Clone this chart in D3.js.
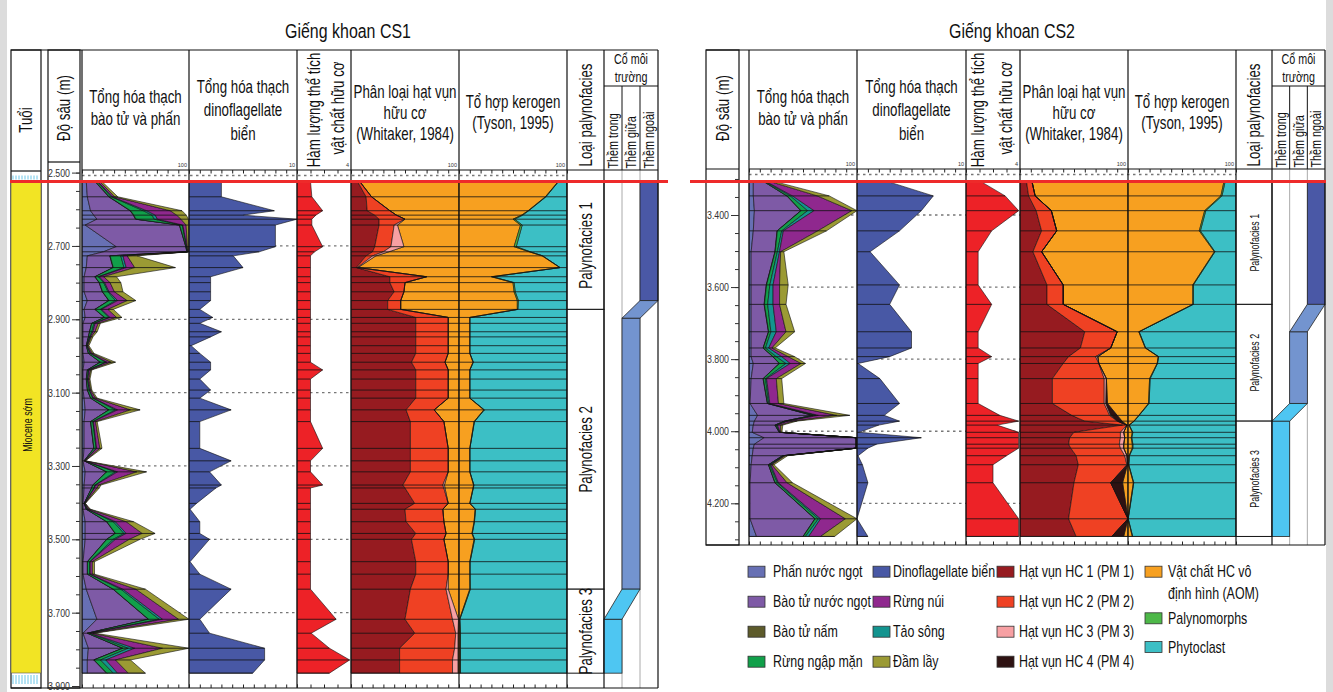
<!DOCTYPE html>
<html><head><meta charset="utf-8">
<script src="https://cdn.jsdelivr.net/npm/d3@7"></script>
<style>
body{margin:0;background:#fff;}
svg{display:block;font-family:'Liberation Sans',Arial,sans-serif;}
</style></head><body>
<script>
// ---------- CS1 data (depth in m) ----------
const cs1Depth = [2524,2566,2604,2616,2627,2643,2702,2716,2727,2759,2784,2800,2825,2849,2873,2895,2911,2934,2948,2972,2993,3017,3038,3063,3093,3115,3147,3179,3252,3286,3316,3352,3360,3402,3418,3452,3484,3500,3561,3595,3636,3718,3756,3797,3829,3865];
// spores & pollen (counts, 0-100 scale)
const cs1Phan   = [4,5,8,11,14,3,32,20,5,4,2,2,2,5,2,3,1,1,1,1,1,2,1,1,1,2,3,2,2,1,3,2,2,1,1,3,3,3,1,1,4,14,1,6,5,5];
const cs1BaoTu  = [8,20,37,37,36,88,65,78,21,25,10,14,17,20,10,18,8,6,5,3,5,15,4,3,4,6,22,6,9,1,20,8,7,1,3,20,28,20,4,4,25,48,4,32,6,18];
const cs1Nam    = [0.5,0.5,0.5,0.5,0.5,0.3,0.2,0.2,0.3,0.3,0.3,0.3,0.3,0.3,0.3,0.3,0.2,0.2,0.2,0.1,0.2,0.3,0.2,0.2,0.2,0.2,0.3,0.2,0.2,0.1,0.3,0.2,0.2,0.1,0.1,0.3,0.3,0.3,0.2,0.2,0.3,0.3,0.2,0.3,0.3,0.3];
const cs1NgapMan= [1.5,2,12,17,17,2.5,0.5,0.5,10,10,3,4,5,6,5,4,2,2,1,0.5,1.5,5,1,1,1.5,2,6,2,2,0.3,8,2,2,0.3,1,6,8,6,2,2,7,10,2,5,6,6];
const cs1TaoSong= [0.5,1,3,3,3,0.5,0.3,0.3,2,2,1,1,1,2,1,1,1,1,0.5,0.3,0.5,1,0.5,0.3,0.5,0.5,2,0.5,0.5,0.2,2,0.5,0.5,0.2,0.3,2,2,2,0.5,0.5,2,3,0.5,6,5,4];
const cs1RungNui= [2,2,22,20,22,3,0.5,0.5,4,8,4,5,5,9,6,6,3,2,1,0.6,1.5,4,1.5,1,1,2,12,2,3,0.3,18,3,2.5,0.3,1.5,10,15,13,2,2,12,15,2.5,26,9,10];
const cs1DamLay = [2,3,11,9,7,2.5,1.5,0.5,9,38,12,10,8,8,5,5,2,2,1.5,1,1.5,4,1,1,1,1.5,9,1.5,2,0.3,9,2,2,0.3,1,7,12,10,2,2,9,9.7,2,24.7,14,16];
const cs1Dino   = [3,3,7.9,5,10,8,8,6.5,4.1,5,2,2,2,2,1,2.2,1,3,2,0.2,1,2,2,1,2,1,3.9,1,1,3.9,1.9,3,2.5,0.7,0.1,1,1,1.9,0.1,1,3.9,1,1.9,7,7,5.9];
const cs1Toc    = [1,1.1,1.9,1.4,1.1,1.1,1.9,1.3,1,1,1,1,1,1,1,1,1,1,1,1,1,1,1.9,1,1,1,1,1,1.9,1,1,1.9,1,1,1,1,1,1,1,1,1,2.9,1.05,2.4,3.9,2.4];
const cs1PM1    = [6,14,15,22,26,26,22,20,14,5,36,36,40,34,34,60,60,60,60,60,60,56,60,60,60,60,51,55,55,55,55,48,50,59,50,51,60,56,60,60,55,50,59,45,45,45];
const cs1PM2    = [2,5,21,20,24,14,15,10,6,1,34,14,9,12,12,30,30,30,30,30,30,31,30,30,30,30,26,31,35,35,35,37,36,31,35,35,28,30,30,30,33,44,38,51,49,49];
const cs1PM3    = [0,0,0,0,0,3,12,5,3,0.5,0,0,0,0,0,0,0,0,0,0,0,0,0,0,0,0,0,0,0,0,0,1.5,1,0,0,0,0,0,0,0,2,5.5,2,3,5,5];
const cs1AOM    = [92,80,64,58,50,57,51,65,77,93.5,30,50,51,54,54,10,10,10,10,10,10,13,10,10,10,10,23,14,10,10,10,13.5,13,10,15,14,12,14,10,10,10,0.5,1,1,1,1];
const cs1Palyno = [0.3,0.5,0.5,1,1.5,1.5,2,1,0.5,0,1,1,1,1,0.5,0,0,0,0,0,0,0.3,0,0,0,0,0.5,0.3,0,0,0,0.3,0.3,0,0.3,0.3,0.3,0.5,0.2,0.2,0.5,0.3,0.3,0.2,0.2,0.2];
const cs1FaciesTop  = [2524,2873,3636];
const cs1FaciesBase = [2873,3636,3865];
const cs1EnvZone = [2,1,0];
const cs1EnvTop  = [2524,2897,3718];
const cs1EnvBase = [2849,3636,3865];
const cs1Grid = [2700,2900,3100,3300,3500,3700];

// ---------- CS2 data ----------
const cs2Depth = [3306,3347,3388,3444,3502,3594,3648,3724,3769,3793,3812,3854,3923,3956,3972,3983,4003,4018,4036,4047,4068,4093,4143,4243,4292];
const cs2Phan   = [4,4,5,4,2,2,2,2,2,2,4,2,1,8,5,4,3,14,5,4,3,2,1,1,7];
const cs2BaoTu  = [9,31,43,22,22,14,12,16,11,20,24,11,16,51,28,20,25,85,94,95,28,16,23,60,43];
const cs2Nam    = [0.3,0.3,0.3,0.3,0.3,0.3,0.3,0.3,0.3,0.3,0.3,0.3,0.3,0.3,0.3,0.3,0.2,0.2,0.2,0.2,0.2,0.2,0.3,0.3,0.3];
const cs2NgapMan= [1,3,6,4,2,3,3,2,2,3,6,2,1,3,2,1,0.5,0.2,0.2,0.2,1,1,2,3,2];
const cs2TaoSong= [1,2,6,1.5,2,3,5,5,3,5,4,1,1,2,1,1,0.3,0.2,0.2,0.2,0.5,1,1,2,3];
const cs2RungNui= [3,23,35,32,1,6,6,9,3,6,10,9,8,17,5,3,0.5,0.2,0.2,0.2,1,1,8,23,11];
const cs2DamLay = [4,11,4.7,8,3,8,6,8,3,6,4,5,5,12,3,2,1,0.2,0.2,0.2,2,2,5,10.7,13];
const cs2Dino   = [2.7,7,5.9,3.9,1.2,3.9,3,5,5,3,0.1,2.1,3.9,2.5,3.9,2,0.2,5.9,1.8,1,0.1,0.5,1,0,1];
const cs2Toc    = [1.05,2.9,3.9,1.9,0.9,0.9,1.9,0.9,0.9,1.9,0.9,0.9,0.9,2.5,3.9,2.3,3.9,3.9,3.9,3.9,3,2,2,3.9,3.9];
const cs2PM1    = [6,8,15,20,12,25,25,60,56,45,40,30,30,48,60,95,50,46,45,47,52,54,50,45,52];
const cs2PM2    = [5,6,14,14,8,15,15,30,28,25,33,48,48,35,30,4,43,47,47,46,45,45,34,55,33];
const cs2PM3    = [0,0,0,0,0,0,0,0,0,2,0,2,1.5,1,0.5,0,3,4,4,3,2,0.5,0,0,0];
const cs2PM4    = [0,0,0,0,0,0,0,0,0,0,0,0,1.5,6,4,0,0,0,0,0,0,0,11,0,11];
const cs2AOM    = [89,86,71,66,80,60,60,10,16,28,27,20,19,10,5.5,1,4,3,4,4,1,0.5,5,0,4];
const cs2Palyno = [1,1,1,1,0.5,0.5,0.5,0.3,0.3,0.3,0.3,0.5,0.5,0.3,0.3,0,0.5,0.5,0.5,0.5,0.3,0.2,0.3,0.2,0.3];
const cs2FaciesTop  = [3306,3648,3972];
const cs2FaciesBase = [3648,3972,4292];
const cs2EnvZone = [2,1,0];
const cs2EnvTop  = [3306,3724,3972];
const cs2EnvBase = [3648,3923,4292];
const cs2Grid = [3400,3600,3800,4000,4200];

const faciesNames = ["Palynofacies 1","Palynofacies 2","Palynofacies 3"];
const envNames = ["Thềm trong","Thềm giữa","Thềm ngoài"];

const legendCol1 = ["Phấn nước ngọt","Bào tử nước ngọt","Bào tử nấm","Rừng ngập mặn"];
const legendCol2 = ["Dinoflagellate biển","Rừng núi","Tảo sông","Đầm lầy"];
const legendCol3 = ["Hạt vụn HC 1 (PM 1)","Hạt vụn HC  2 (PM 2)","Hạt vụn HC 3 (PM 3)","Hạt vụn HC 4 (PM 4)"];
const legendCol4 = [["Vật chất HC vô","định hình (AOM)"],["Palynomorphs"],["Phytoclast"]];

// ---------- colours ----------
const sporeColors = ["#6770b4","#7e5aa6","#5d5b2b","#11a04a","#13948f","#8f288e","#9b9a34"];
const pmColors = ["#961b20","#ef4123","#f7a0a3","#2e1212"];
const aomColor = "#f7a020", palyColor = "#4db848", phytoColor = "#3cbfc5";
const dinoColor = "#4858a5", tocColor = "#ed2227";
const envColors = ["#4ec6f2","#7394cf","#4a58a6"];

const svg = d3.select("body").append("svg").attr("width", 1333).attr("height", 692);
const fmtDepth = d3.formatLocale({decimal: ",", thousands: ".", grouping: [3], currency: ["", ""]}).format(",");

// condensed text: Liberation Sans squeezed along the writing direction
const SX = 0.74;
function label(parent, x, y, str, size, opt = {}) {
    const rot = opt.rotate ? ` rotate(${opt.rotate})` : "";
    return parent.append("text")
        .attr("transform", `translate(${x},${y})${rot} scale(${opt.sx || SX},1)`)
        .attr("text-anchor", opt.anchor || "middle")
        .attr("dominant-baseline", "central")
        .attr("font-size", size).attr("fill", "#111").text(str);
}

// page edges
svg.append("rect").attr("x", 0).attr("y", 0).attr("width", 7).attr("height", 692).attr("fill", "#dcdcdc");
svg.append("rect").attr("x", 1326).attr("y", 0).attr("width", 7).attr("height", 692).attr("fill", "#dcdcdc");

const wells = [{
    title: "Giếng khoan CS1", titleX: 348,
    depth: cs1Depth,
    spores: [cs1Phan, cs1BaoTu, cs1Nam, cs1NgapMan, cs1TaoSong, cs1RungNui, cs1DamLay],
    dino: cs1Dino, toc: cs1Toc, pm: [cs1PM1, cs1PM2, cs1PM3], aom: cs1AOM, paly: cs1Palyno,
    faciesTop: cs1FaciesTop, faciesBase: cs1FaciesBase,
    envZone: cs1EnvZone, envTop: cs1EnvTop, envBase: cs1EnvBase, grid: cs1Grid,
    yDomain: [2500, 3900], yRange: [172.6, 686], tickRange: [2500, 3900],
    cols: {A: [82, 189], B: [189, 297], C: [297, 351], D: [351, 459], E: [459, 567], F: [567, 604], G: [604, 658]},
    frameLeft: 11, depthBox: [48, 80], depthHeadBot: 162,
    headTop: 50, headBot: 170, bodyBot: 688, redX: [10, 668], faciesFont: 18, tocOff: [17, 41]
}, {
    title: "Giếng khoan CS2", titleX: 1012,
    depth: cs2Depth,
    spores: [cs2Phan, cs2BaoTu, cs2Nam, cs2NgapMan, cs2TaoSong, cs2RungNui, cs2DamLay],
    dino: cs2Dino, toc: cs2Toc, pm: [cs2PM1, cs2PM2, cs2PM3, cs2PM4], aom: cs2AOM, paly: cs2Palyno,
    faciesTop: cs2FaciesTop, faciesBase: cs2FaciesBase,
    envZone: cs2EnvZone, envTop: cs2EnvTop, envBase: cs2EnvBase, grid: cs2Grid,
    yDomain: [3400, 4200], yRange: [215, 503.3], tickRange: [3300, 4300],
    cols: {A: [749, 857], B: [857, 966], C: [966, 1020], D: [1020, 1128], E: [1128, 1236], F: [1236, 1272], G: [1272, 1325]},
    frameLeft: 706, depthBox: [706, 739], depthHeadBot: 169,
    headTop: 50, headBot: 169, bodyBot: 545, redX: [690, 1326], faciesFont: 12, tocOff: [12, 40]
}];

function sampleLines(g, idx, x1, x2, yAt) {
    g.append("g").selectAll("line").data(idx).join("line")
        .attr("x1", x1).attr("x2", x2)
        .attr("y1", yAt).attr("y2", yAt)
        .attr("stroke", "#111").attr("stroke-width", 0.8);
}

function drawWell(w) {
    const g = svg.append("g");
    const y = d3.scaleLinear().domain(w.yDomain).range(w.yRange);
    const idx = d3.range(w.depth.length);
    const yAt = i => y(w.depth[i]);
    const c = w.cols;
    const top = w.headBot, bot = w.bodyBot;
    const x = {
        A: d3.scaleLinear().domain([0, 100]).range(c.A),
        B: d3.scaleLinear().domain([0, 10]).range(c.B),
        C: d3.scaleLinear().domain([0, 4]).range(c.C),
        D: d3.scaleLinear().domain([0, 100]).range(c.D),
        E: d3.scaleLinear().domain([0, 100]).range(c.E)
    };

    // dashed depth grid behind the data
    g.append("g").selectAll("line").data(w.grid).join("line")
        .attr("x1", c.A[0]).attr("x2", c.E[1])
        .attr("y1", d => y(d)).attr("y2", d => y(d))
        .attr("stroke", "#777").attr("stroke-width", 1.3).attr("stroke-dasharray", "2.5,3.5");
    g.append("line").attr("x1", c.A[0]).attr("x2", c.E[1]).attr("y1", top + 5.5).attr("y2", top + 5.5)
        .attr("stroke", "#777").attr("stroke-width", 1.3).attr("stroke-dasharray", "2.5,3.5");

    // A: spores & pollen stack
    const stackA = d3.stack().keys(d3.range(w.spores.length)).value((i, k) => w.spores[k][i])(idx);
    g.append("g").selectAll("path").data(stackA).join("path")
        .attr("d", d3.area().y(d => yAt(d.data)).x0(d => x.A(d[0])).x1(d => x.A(d[1])))
        .attr("fill", (d, k) => sporeColors[k])
        .attr("stroke", "#111").attr("stroke-width", 0.6).attr("stroke-linejoin", "round");
    sampleLines(g, idx, x.A(0), i => x.A(stackA[stackA.length - 1][i][1]), yAt);

    // B: dinoflagellates
    g.append("path").datum(idx)
        .attr("d", d3.area().y(yAt).x0(x.B(0)).x1(i => x.B(w.dino[i])))
        .attr("fill", dinoColor).attr("stroke", "#111").attr("stroke-width", 0.6);
    sampleLines(g, idx, x.B(0), i => x.B(w.dino[i]), yAt);

    // C: organic matter content
    g.append("path").datum(idx)
        .attr("d", d3.area().y(yAt).x0(x.C(0)).x1(i => x.C(w.toc[i])))
        .attr("fill", tocColor).attr("stroke", "#111").attr("stroke-width", 0.6);
    sampleLines(g, idx, x.C(0), i => x.C(w.toc[i]), yAt);

    // D: Whitaker classification, AOM fills to 100
    const stackD = d3.stack().keys(d3.range(w.pm.length)).value((i, k) => w.pm[k][i])(idx);
    const pmTop = i => stackD[stackD.length - 1][i][1];
    g.append("path").datum(idx)
        .attr("d", d3.area().y(yAt).x0(i => x.D(pmTop(i))).x1(x.D(100)))
        .attr("fill", aomColor).attr("stroke", "#111").attr("stroke-width", 0.6);
    g.append("g").selectAll("path").data(stackD).join("path")
        .attr("d", d3.area().y(d => yAt(d.data)).x0(d => x.D(d[0])).x1(d => x.D(d[1])))
        .attr("fill", (d, k) => pmColors[k])
        .attr("stroke", "#111").attr("stroke-width", 0.6).attr("stroke-linejoin", "round");

    // E: Tyson kerogen, phytoclast fills to 100
    const stackE = d3.stack().keys(["aom", "paly"]).value((i, k) => w[k][i])(idx);
    g.append("path").datum(idx)
        .attr("d", d3.area().y(yAt).x0(i => x.E(stackE[1][i][1])).x1(x.E(100)))
        .attr("fill", phytoColor).attr("stroke", "#111").attr("stroke-width", 0.6);
    g.append("g").selectAll("path").data(stackE).join("path")
        .attr("d", d3.area().y(d => yAt(d.data)).x0(d => x.E(d[0])).x1(d => x.E(d[1])))
        .attr("fill", (d, k) => [aomColor, palyColor][k])
        .attr("stroke", "#111").attr("stroke-width", 0.6).attr("stroke-linejoin", "round");
    sampleLines(g, idx, c.D[0], c.E[1], yAt);

    // F: palynofacies
    const fac = g.append("g");
    fac.selectAll("rect").data(w.faciesTop).join("rect")
        .attr("x", c.F[0]).attr("width", c.F[1] - c.F[0])
        .attr("y", d => y(d)).attr("height", (d, i) => y(w.faciesBase[i]) - y(d))
        .attr("fill", "#fff").attr("stroke", "#111").attr("stroke-width", 1);
    w.faciesTop.forEach((d, i) =>
        label(fac, (c.F[0] + c.F[1]) / 2, (y(d) + y(w.faciesBase[i])) / 2, faciesNames[i], w.faciesFont, {rotate: -90}));

    // G: palaeo-environment
    const gw = (c.G[1] - c.G[0]) / 3;
    const zx = z => c.G[0] + z * gw;
    g.append("g").selectAll("line").data([1, 2]).join("line")
        .attr("x1", d => zx(d)).attr("x2", d => zx(d)).attr("y1", top).attr("y2", bot)
        .attr("stroke", "#aaa").attr("stroke-width", 1);
    const env = g.append("g");
    w.envZone.forEach((z, i) => {
        env.append("rect").attr("x", zx(z)).attr("width", gw)
            .attr("y", y(w.envTop[i])).attr("height", y(w.envBase[i]) - y(w.envTop[i]))
            .attr("fill", envColors[z]).attr("stroke", "#222").attr("stroke-width", 0.8);
        if (i > 0) {
            const zp = w.envZone[i - 1], yb = y(w.envBase[i - 1]), yt = y(w.envTop[i]);
            env.append("path")
                .attr("d", d3.line()([[zx(z), yt], [zx(z) + gw, yt], [zx(zp) + gw, yb], [zx(zp), yb]]) + "Z")
                .attr("fill", envColors[z]).attr("stroke", "#222").attr("stroke-width", 0.8);
        }
    });

    // column frames
    const vx = [c.A[0], c.B[0], c.C[0], c.D[0], c.E[0], c.F[0], c.G[0], c.G[1]];
    g.append("g").selectAll("line").data(vx).join("line")
        .attr("x1", d => d).attr("x2", d => d).attr("y1", w.headTop).attr("y2", bot)
        .attr("stroke", "#111").attr("stroke-width", 1.2);
    g.append("line").attr("x1", c.A[0]).attr("x2", c.G[1]).attr("y1", top).attr("y2", top).attr("stroke", "#111").attr("stroke-width", 1.2);
    g.append("line").attr("x1", w.frameLeft).attr("x2", c.G[1]).attr("y1", w.headTop).attr("y2", w.headTop).attr("stroke", "#111").attr("stroke-width", 1.2);
    g.append("line").attr("x1", w.frameLeft).attr("x2", c.G[1]).attr("y1", bot).attr("y2", bot).attr("stroke", "#111").attr("stroke-width", 1.2);
    const subY = w.headTop + 36;
    g.append("line").attr("x1", c.G[0]).attr("x2", c.G[1]).attr("y1", subY).attr("y2", subY).attr("stroke", "#111").attr("stroke-width", 1);
    g.append("g").selectAll("line").data([1, 2]).join("line")
        .attr("x1", d => zx(d)).attr("x2", d => zx(d)).attr("y1", subY).attr("y2", top)
        .attr("stroke", "#111").attr("stroke-width", 1);

    // top / bottom tick rows
    ["A", "B", "C", "D", "E"].forEach(k => {
        const n = k === "C" ? 4 : 10;
        g.append("g").attr("transform", `translate(0,${top})`)
            .call(d3.axisBottom(x[k]).ticks(n).tickSize(3.5).tickFormat(""))
            .call(a => a.select(".domain").remove())
            .selectAll("line").attr("stroke", "#222");
        g.append("g").attr("transform", `translate(0,${bot})`)
            .call(d3.axisTop(x[k]).ticks(n).tickSize(3.5).tickFormat(""))
            .call(a => a.select(".domain").remove())
            .selectAll("line").attr("stroke", "#222");
        g.append("text").attr("x", c[k][1] - 2).attr("y", top - 3)
            .attr("text-anchor", "end").attr("font-size", 5.5).attr("fill", "#333")
            .text(x[k].domain()[1]);
    });

    // depth column
    const [d0, d1] = w.depthBox;
    g.append("rect").attr("x", d0).attr("y", w.headTop).attr("width", d1 - d0).attr("height", bot - w.headTop)
        .attr("fill", "none").attr("stroke", "#111").attr("stroke-width", 1.2);
    g.append("line").attr("x1", d0).attr("x2", d1).attr("y1", w.depthHeadBot).attr("y2", w.depthHeadBot)
        .attr("stroke", "#111").attr("stroke-width", 1.2);
    g.append("g").attr("transform", `translate(${d1},0)`)
        .call(d3.axisLeft(y).tickValues(d3.range(w.tickRange[0], w.tickRange[1] + 1, 50)).tickSize(4).tickFormat(""))
        .call(a => a.select(".domain").remove())
        .selectAll("line").attr("stroke", "#333");
    g.append("g").attr("transform", `translate(${d1},0)`)
        .call(d3.axisLeft(y).tickValues(d3.range(w.yDomain[0], w.yDomain[1] + 1, 200)).tickSize(8).tickPadding(2).tickFormat(fmtDepth))
        .call(a => a.select(".domain").remove())
        .call(a => a.selectAll("text").attr("font-size", 11).attr("fill", "#333").attr("font-family", null)
            .attr("x", -10 / 0.8).attr("transform", "scale(0.8,1)"))
        .selectAll("line").attr("stroke", "#333");

    // headers
    const hg = g.append("g");
    const mid = k => (c[k][0] + c[k][1]) / 2;
    const hLines = (cx, ys, lines, size) => lines.forEach((t, i) => label(hg, cx, ys[i], t, size));
    label(hg, w.titleX, 31, w.title, 21, {sx: 0.76});
    label(hg, (d0 + d1) / 2, 108, "Độ sâu (m)", 18, {rotate: -90});
    hLines(mid("A"), [97, 119], ["Tổng hóa thạch", "bào tử và phấn"], 18);
    hLines(mid("B"), [87, 110, 134], ["Tổng hóa thạch", "dinoflagellate", "biển"], 18);
    label(hg, c.C[0] + w.tocOff[0], 110, "Hàm lượng thể tích", 18, {rotate: -90});
    label(hg, c.C[0] + w.tocOff[1], 108, "vật chất hữu cơ", 18, {rotate: -90});
    hLines(mid("D"), [92, 113, 134], ["Phân loại hạt vụn", "hữu cơ", "(Whitaker, 1984)"], 18);
    hLines(mid("E"), [102, 123], ["Tổ hợp kerogen", "(Tyson, 1995)"], 18);
    label(hg, mid("F"), 115, "Loại palynofacies", 18, {rotate: -90});
    hLines(mid("G"), [59, 76.5], ["Cổ môi", "trường"], 14.5);
    envNames.forEach((t, i) => label(hg, zx(i) + gw / 2, top - 1.5, t, 15, {rotate: -90, anchor: "start", sx: 0.72}));

    // red reference line
    g.append("line").attr("x1", w.redX[0]).attr("x2", w.redX[1]).attr("y1", 181.5).attr("y2", 181.5)
        .attr("stroke", "#ee2a2a").attr("stroke-width", 3);
}

// Age column (CS1 only)
const age = svg.append("g");
age.append("rect").attr("x", 11).attr("y", 50).attr("width", 30).attr("height", 638)
    .attr("fill", "#fff").attr("stroke", "#111").attr("stroke-width", 1.2);
age.append("line").attr("x1", 11).attr("x2", 41).attr("y1", 171).attr("y2", 171).attr("stroke", "#111").attr("stroke-width", 1.2);
age.append("rect").attr("x", 11).attr("y", 181).attr("width", 30).attr("height", 492).attr("fill", "#f2e424").attr("stroke", "#555").attr("stroke-width", 0.6);
age.append("g").selectAll("line").data(d3.range(13, 39, 3)).join("line")
    .attr("x1", d => d).attr("x2", d => d).attr("y1", 175.5).attr("y2", 179.5).attr("stroke", "#6cc7e8").attr("stroke-width", 1);
age.append("g").selectAll("line").data(d3.range(13, 39, 3)).join("line")
    .attr("x1", d => d).attr("x2", d => d).attr("y1", 675).attr("y2", 684).attr("stroke", "#6cc7e8").attr("stroke-width", 1);
label(age, 26, 120, "Tuổi", 18, {rotate: -90});
label(age, 27, 425, "Miocene sớm", 12, {rotate: -90});

wells.forEach(drawWell);

// ---------- legend ----------
const leg = svg.append("g");
const legRows = [571.7, 601.7, 631.7, 661.7];
function legItem(sx, tx, yy, color, lines) {
    leg.append("rect").attr("x", sx).attr("y", yy - 5.5).attr("width", 17).attr("height", 11)
        .attr("fill", color).attr("stroke", "#333").attr("stroke-width", 0.8);
    lines.forEach((t, i) => label(leg, tx, yy + i * 21.5, t, 17, {anchor: "start", sx: 0.73}));
}
legendCol1.forEach((t, i) => legItem(748, 773, legRows[i], sporeColors[i], [t]));
legendCol2.forEach((t, i) => legItem(873, 893, legRows[i], [dinoColor, sporeColors[5], sporeColors[4], sporeColors[6]][i], [t]));
legendCol3.forEach((t, i) => legItem(997, 1019, legRows[i], pmColors[i], [t]));
const col4Y = [571.7, 618.3, 647];
legendCol4.forEach((t, i) => legItem(1145, 1168, col4Y[i], [aomColor, palyColor, phytoColor][i], t));
</script></body></html>
